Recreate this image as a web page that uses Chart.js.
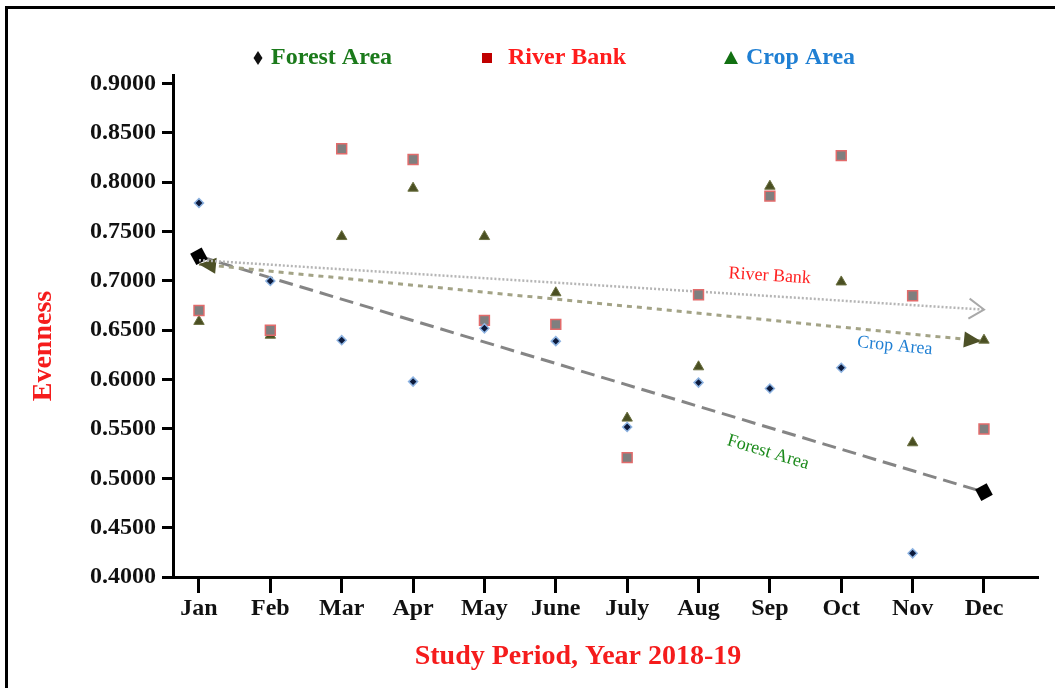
<!DOCTYPE html>
<html>
<head>
<meta charset="utf-8">
<script src="https://cdn.jsdelivr.net/npm/chart.js@4.4.0/dist/chart.umd.min.js"></script>
<style>
  html, body { margin: 0; padding: 0; background: #fff; }
  canvas { display: block; }
</style>
</head>
<body>
<canvas id="chart" width="1055" height="688"></canvas>
<script>
// Monthly evenness index, study period 2018-19
const months = ['Jan', 'Feb', 'Mar', 'Apr', 'May', 'June', 'July', 'Aug', 'Sep', 'Oct', 'Nov', 'Dec'];
const forestArea = [0.779, 0.700, 0.640, 0.598, 0.652, 0.639, 0.552, 0.597, 0.591, 0.612, 0.424, null];
const riverBank  = [0.670, 0.650, 0.834, 0.823, 0.660, 0.656, 0.521, 0.686, 0.786, 0.827, 0.685, 0.550];
const cropArea   = [0.659, 0.645, 0.745, 0.794, 0.745, 0.688, 0.561, 0.613, 0.796, 0.699, 0.536, 0.640];

// Trend lines, value at Jan and at Dec
const forestTrend = [0.725, 0.486];
const riverTrend  = [0.721, 0.671];
const cropTrend   = [0.717, 0.639];

const yTicks = [0.40, 0.45, 0.50, 0.55, 0.60, 0.65, 0.70, 0.75, 0.80, 0.85, 0.90];

const SERIF = "'Liberation Serif', 'Times New Roman', serif";

const toPoints = arr => arr.map((v, i) => (v == null ? null : { x: i, y: v })).filter(Boolean);
const trendPoints = t => [{ x: 0, y: t[0] }, { x: months.length - 1, y: t[1] }];

// Draws the end decorations of each trend line right after that line is drawn
const trendEnds = {
  id: 'trendEnds',
  afterDatasetDraw(chart, args) {
    const ds = chart.data.datasets[args.index];
    if (!ds.trend) return;
    const pts = args.meta.data;
    if (pts.length < 2) return;
    const a = pts[0], b = pts[pts.length - 1];
    const ang = Math.atan2(b.y - a.y, b.x - a.x);
    const ctx = chart.ctx;
    ctx.save();
    if (ds.trend === 'forest') {
      ctx.fillStyle = '#000';
      [a, b].forEach(p => {
        ctx.save();
        ctx.translate(p.x, p.y);
        ctx.rotate(ang + Math.PI / 4);
        ctx.fillRect(-6.5, -6.5, 13, 13);
        ctx.restore();
      });
    } else if (ds.trend === 'crop') {
      ctx.fillStyle = '#4d5127';
      const head = (p, dir) => {
        ctx.save();
        ctx.translate(p.x, p.y);
        ctx.rotate(dir);
        ctx.beginPath();
        ctx.moveTo(0, 0);
        ctx.lineTo(-17, -8);
        ctx.lineTo(-17, 8);
        ctx.closePath();
        ctx.fill();
        ctx.restore();
      };
      head(a, ang + Math.PI);
      head({ x: b.x - 3, y: b.y }, ang);
    } else if (ds.trend === 'river') {
      ctx.strokeStyle = '#a9a9a9';
      ctx.lineWidth = 2;
      ctx.translate(b.x, b.y);
      ctx.rotate(ang);
      ctx.beginPath();
      ctx.moveTo(-15, -10);
      ctx.lineTo(0, 0);
      ctx.lineTo(-15, 10);
      ctx.stroke();
    }
    ctx.restore();
  }
};

// Frame, legend, axis titles and trend-line captions
const decor = {
  id: 'decor',
  beforeDraw(chart) {
    const ctx = chart.ctx;
    ctx.save();
    ctx.fillStyle = '#fff';
    ctx.fillRect(0, 0, chart.width, chart.height);
    ctx.strokeStyle = '#000';
    ctx.lineWidth = 3;
    ctx.beginPath();
    ctx.moveTo(5, 7.5); ctx.lineTo(chart.width, 7.5);
    ctx.moveTo(6.5, 6); ctx.lineTo(6.5, chart.height);
    ctx.stroke();
    ctx.restore();
  },
  afterDraw(chart) {
    const ctx = chart.ctx;
    const xs = chart.scales.x, ys = chart.scales.y;
    ctx.save();

    // legend
    const ly = 58;
    ctx.textBaseline = 'middle';
    ctx.textAlign = 'left';
    ctx.font = 'bold 24px ' + SERIF;
    // diamond
    ctx.fillStyle = '#111';
    ctx.beginPath();
    ctx.moveTo(258, ly - 7); ctx.lineTo(262.5, ly); ctx.lineTo(258, ly + 7); ctx.lineTo(253.5, ly);
    ctx.closePath(); ctx.fill();
    ctx.fillStyle = '#1b7a1b';
    ctx.fillText('Forest Area', 271, ly);
    // square
    ctx.fillStyle = '#c00000';
    ctx.fillRect(482, ly - 5, 10, 10);
    ctx.fillStyle = '#ff1c1c';
    ctx.fillText('River Bank', 508, ly);
    // triangle
    ctx.fillStyle = '#127012';
    ctx.beginPath();
    ctx.moveTo(731, ly - 7); ctx.lineTo(738, ly + 6); ctx.lineTo(724, ly + 6);
    ctx.closePath(); ctx.fill();
    ctx.fillStyle = '#1f7fd3';
    ctx.fillText('Crop Area', 746, ly);

    // axis titles
    ctx.fillStyle = '#f51c1c';
    ctx.font = 'bold 28px ' + SERIF;
    ctx.textAlign = 'center';
    ctx.fillText('Study Period, Year 2018-19', 578, 657);
    ctx.save();
    ctx.translate(44, 346);
    ctx.rotate(-Math.PI / 2);
    ctx.fillText('Evenness', 0, 0);
    ctx.restore();

    // captions along trend lines
    const caption = (text, trend, xu, off, color) => {
      const last = months.length - 1;
      const x0 = xs.getPixelForValue(0), y0 = ys.getPixelForValue(trend[0]);
      const x1 = xs.getPixelForValue(last), y1 = ys.getPixelForValue(trend[1]);
      const ang = Math.atan2(y1 - y0, x1 - x0);
      const px = xs.getPixelForValue(xu);
      const py = ys.getPixelForValue(trend[0] + (trend[1] - trend[0]) * xu / last);
      ctx.save();
      ctx.translate(px, py);
      ctx.rotate(ang);
      ctx.fillStyle = color;
      ctx.font = '18px ' + SERIF;
      ctx.textAlign = 'center';
      ctx.textBaseline = 'middle';
      ctx.fillText(text, 0, off);
      ctx.restore();
    };
    caption('River Bank', riverTrend, 7.98, -20, '#ff2020');
    caption('Crop Area', cropTrend, 9.77, 13.5, '#1f7fd3');
    caption('Forest Area', forestTrend, 8.07, 24, '#1b8a1b');

    ctx.restore();
  }
};

const tickFont = { family: SERIF, size: 24, weight: 'bold' };

new Chart(document.getElementById('chart'), {
  type: 'scatter',
  data: {
    datasets: [
      {
        label: 'Forest Area',
        data: toPoints(forestArea),
        pointStyle: 'rectRot',
        pointRadius: 4.5,
        backgroundColor: '#0c1a3c',
        borderColor: '#8db3e2',
        borderWidth: 1.5
      },
      {
        label: 'River Bank',
        data: toPoints(riverBank),
        pointStyle: 'rect',
        pointRadius: 7,
        backgroundColor: '#7f7f7f',
        borderColor: '#e26b6b',
        borderWidth: 1.5
      },
      {
        label: 'Crop Area',
        data: toPoints(cropArea),
        pointStyle: 'triangle',
        pointRadius: 6,
        backgroundColor: '#4a4f22',
        borderColor: '#6b7040',
        borderWidth: 1
      },
      {
        label: 'River Bank trend',
        trend: 'river',
        data: trendPoints(riverTrend),
        showLine: true,
        borderColor: '#b5b5b5',
        borderWidth: 2.5,
        borderDash: [2, 2],
        pointRadius: 0
      },
      {
        label: 'Crop Area trend',
        trend: 'crop',
        data: trendPoints(cropTrend),
        showLine: true,
        borderColor: '#a3a386',
        borderWidth: 3,
        borderDash: [5, 5],
        pointRadius: 0
      },
      {
        label: 'Forest Area trend',
        trend: 'forest',
        data: trendPoints(forestTrend),
        showLine: true,
        borderColor: '#858585',
        borderWidth: 3,
        borderDash: [14, 7],
        pointRadius: 0
      }
    ]
  },
  options: {
    responsive: false,
    animation: false,
    layout: { padding: { left: 0, top: 75, right: 17, bottom: 0 } },
    plugins: {
      legend: { display: false },
      tooltip: { enabled: false }
    },
    scales: {
      x: {
        type: 'linear',
        min: -0.364,
        max: 11.757,
        afterBuildTicks: s => { s.ticks = months.map((m, i) => ({ value: i })); },
        afterFit: s => { s.height = 111; },
        ticks: {
          callback: v => months[v] ?? '',
          font: tickFont,
          color: '#111',
          padding: 1,
          autoSkip: false,
          maxRotation: 0
        },
        grid: {
          display: true,
          drawOnChartArea: false,
          drawTicks: true,
          tickLength: 16,
          tickWidth: 3,
          tickColor: '#000'
        },
        border: { display: true, color: '#000', width: 3 }
      },
      y: {
        type: 'linear',
        min: 0.4,
        max: 0.9087,
        afterBuildTicks: s => { s.ticks = yTicks.map(v => ({ value: v })); },
        afterFit: s => { s.width = 173; },
        ticks: {
          callback: v => Number(v).toFixed(4),
          font: tickFont,
          color: '#111',
          padding: 6
        },
        grid: {
          display: true,
          drawOnChartArea: false,
          drawTicks: true,
          tickLength: 11,
          tickWidth: 3,
          tickColor: '#000'
        },
        border: { display: true, color: '#000', width: 3 }
      }
    }
  },
  plugins: [decor, trendEnds]
});
</script>
</body>
</html>
